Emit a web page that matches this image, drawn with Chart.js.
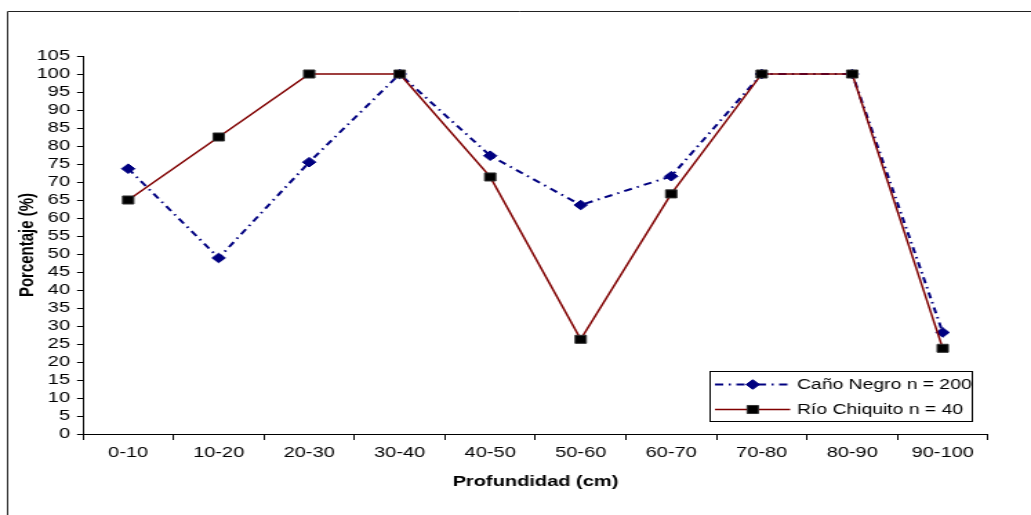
<!DOCTYPE html>
<html>
<head>
<meta charset="utf-8">
<script src="https://cdn.jsdelivr.net/npm/chart.js@4.4.1/dist/chart.umd.min.js"></script>
<style>
  html, body { margin: 0; padding: 0; background: #fff; overflow: hidden; }
  /* the chart is laid out at 747px wide and widened to the page width */
  #wrap { position: absolute; left: 0; top: 0; width: 747px; height: 515px;
          transform: scaleX(1.3802); transform-origin: 0 0; }
</style>
</head>
<body>
<div id="wrap"><canvas id="c"></canvas></div>
<script>
// Depth classes (cm)
const depthLabels = ['0-10', '10-20', '20-30', '30-40', '40-50', '50-60', '60-70', '70-80', '80-90', '90-100'];
// Percentage per depth class
const canoNegro   = [73.7, 48.9, 75.5, 100, 77.3, 63.6, 71.6, 100, 100, 28.2];
const rioChiquito = [65.0, 82.5, 100, 100, 71.4, 26.3, 66.7, 100, 100, 23.8];
const seriesNames = ['Caño Negro n = 200', 'Río Chiquito n = 40'];
const axisTitleX = 'Profundidad (cm)';
const axisTitleY = 'Porcentaje (%)';

const FONT = "'Liberation Sans', Arial, Helvetica, sans-serif";

function drawMarker(ctx, style, r, x, y, fill, stroke, bw) {
  ctx.save();
  ctx.setLineDash([]);
  ctx.fillStyle = fill;
  ctx.strokeStyle = stroke;
  ctx.lineWidth = bw;
  ctx.beginPath();
  if (style === 'rectRot') {
    ctx.moveTo(x - r, y); ctx.lineTo(x, y - r); ctx.lineTo(x + r, y); ctx.lineTo(x, y + r);
    ctx.closePath();
  } else {
    const s = Math.SQRT1_2 * r;
    ctx.rect(x - s, y - s, 2 * s, 2 * s);
  }
  ctx.fill();
  if (bw > 0) ctx.stroke();
  ctx.restore();
}

// Frame, axis titles and the boxed legend
const decor = {
  id: 'decor',
  beforeDraw(chart) {
    const ctx = chart.ctx;
    ctx.save();
    ctx.fillStyle = '#fff';
    ctx.fillRect(0, 0, chart.width, chart.height);
    ctx.strokeStyle = '#222';
    ctx.lineWidth = 1;
    ctx.beginPath();
    ctx.moveTo(5.5, chart.height);
    ctx.lineTo(5.5, 11.5);
    ctx.lineTo(chart.width, 11.5);
    ctx.stroke();
    ctx.restore();
  },
  afterDraw(chart) {
    const ctx = chart.ctx;
    const a = chart.chartArea;
    ctx.save();
    ctx.fillStyle = '#000';
    ctx.font = 'bold 14.5px ' + FONT;
    ctx.textAlign = 'center';
    ctx.textBaseline = 'middle';
    ctx.fillText(axisTitleX, (a.left + a.right) / 2, 482);
    ctx.save();
    ctx.translate(19.6, (a.top + a.bottom) / 2);
    ctx.rotate(-Math.PI / 2);
    ctx.font = 'bold 15px ' + FONT;
    ctx.fillText(axisTitleY, 0, 0);
    ctx.restore();

    // legend box
    const bx = 514.5, by = 371.5, bw = 190, bh = 50;
    ctx.fillStyle = '#fff';
    ctx.fillRect(bx, by, bw, bh);
    ctx.strokeStyle = '#000';
    ctx.lineWidth = 1;
    ctx.strokeRect(bx, by, bw, bh);

    chart.data.datasets.forEach((ds, i) => {
      const y = 384.5 + i * 25;
      ctx.save();
      ctx.strokeStyle = ds.borderColor;
      ctx.lineWidth = ds.borderWidth;
      ctx.setLineDash(ds.borderDash || []);
      ctx.beginPath();
      ctx.moveTo(518, y);
      ctx.lineTo(572.5, y);
      ctx.stroke();
      ctx.restore();
      drawMarker(ctx, ds.pointStyle, ds.pointRadius, 545.4, y,
                 ds.pointBackgroundColor, ds.pointBorderColor, ds.pointBorderWidth);
      ctx.fillStyle = '#000';
      ctx.font = '14px ' + FONT;
      ctx.textAlign = 'left';
      ctx.textBaseline = 'middle';
      ctx.fillText(ds.label, 577.5, y + 0.5);
    });
    ctx.restore();
  }
};

new Chart(document.getElementById('c'), {
  type: 'line',
  data: {
    labels: depthLabels,
    datasets: [
      {
        label: seriesNames[0],
        data: canoNegro,
        borderColor: '#000080',
        backgroundColor: '#000080',
        borderWidth: 2,
        borderDash: [6, 4, 1.5, 4],
        pointStyle: 'rectRot',
        pointRadius: 4.8,
        pointBackgroundColor: '#000080',
        pointBorderColor: '#000080',
        pointBorderWidth: 1,
        tension: 0,
        order: 1
      },
      {
        label: seriesNames[1],
        data: rioChiquito,
        borderColor: '#800000',
        backgroundColor: '#000',
        borderWidth: 1.5,
        pointStyle: 'rect',
        pointRadius: 5.7,
        pointBackgroundColor: '#000',
        pointBorderColor: '#333',
        pointBorderWidth: 1,
        tension: 0,
        order: 0
      }
    ]
  },
  options: {
    responsive: true,
    maintainAspectRatio: false,
    animation: false,
    devicePixelRatio: 1,
    layout: { padding: { left: 0, top: 56, right: 31.2, bottom: 0 } },
    plugins: { legend: { display: false }, tooltip: { enabled: false } },
    scales: {
      x: {
        type: 'category',
        offset: true,
        grid: { offset: true, drawOnChartArea: false, drawTicks: true, tickLength: 6, color: '#000', lineWidth: 1 },
        border: { color: '#000', width: 1 },
        ticks: { font: { family: FONT, size: 14.5 }, color: '#000', padding: 4, maxRotation: 0, autoSkip: false },
        afterFit(s) { s.height = 81; }
      },
      y: {
        min: 0,
        max: 105,
        grid: { drawOnChartArea: false, drawTicks: true, tickLength: 4.3, color: '#000', lineWidth: 1 },
        border: { color: '#000', width: 1 },
        ticks: { stepSize: 5, autoSkip: false, font: { family: FONT, size: 14.5 }, color: '#000', padding: 5.1 },
        afterFit(s) { s.width = 60.1; }
      }
    }
  },
  plugins: [decor]
});
</script>
</body>
</html>
